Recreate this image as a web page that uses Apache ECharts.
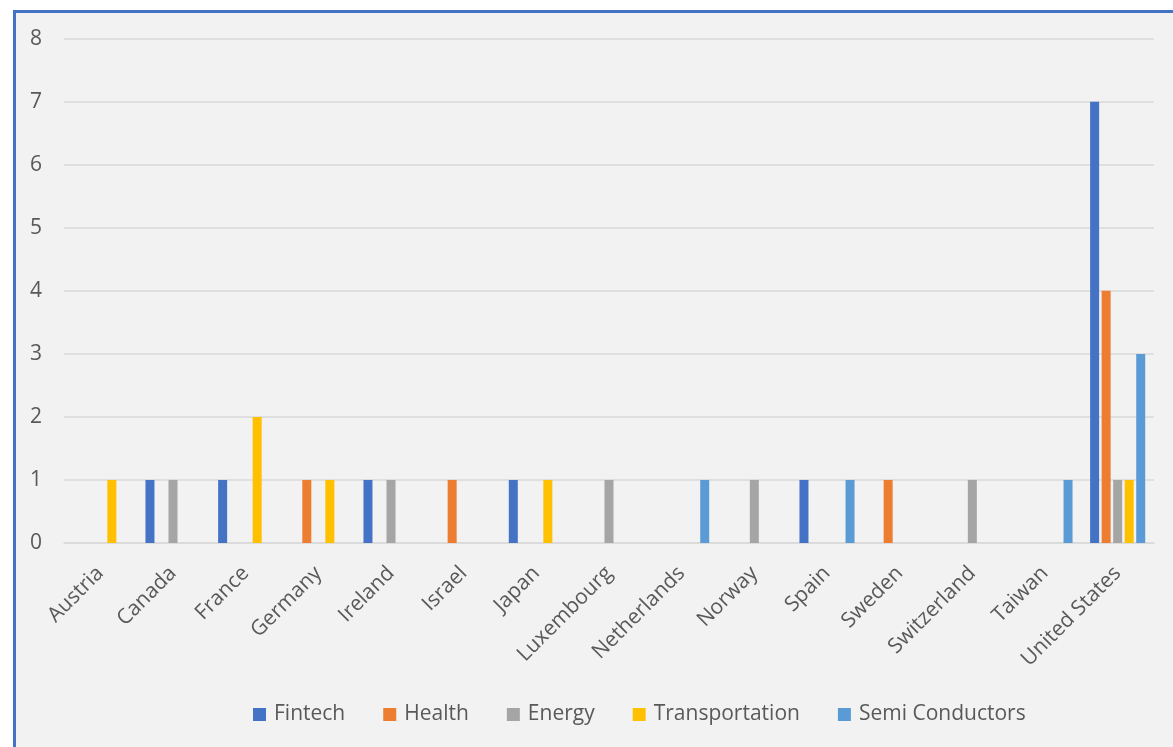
<!DOCTYPE html>
<html>
<head>
<meta charset="utf-8">
<script src="https://cdn.jsdelivr.net/npm/echarts@6/dist/echarts.min.js"></script>
<style>
html,body{margin:0;padding:0;background:#ffffff;width:1173px;height:747px;overflow:hidden;}
#frame{position:absolute;left:13px;top:10px;width:1200px;height:800px;background:#f2f2f2;border-left:3px solid #4472c4;border-top:3px solid #4472c4;}
#chart{position:absolute;left:0;top:0;width:1173px;height:747px;}
</style>
</head>
<body>
<div id="frame"></div>
<div id="chart"></div>
<script>
const categories = ["Austria","Canada","France","Germany","Ireland","Israel","Japan","Luxembourg","Netherlands","Norway","Spain","Sweden","Switzerland","Taiwan","United States"];
const fintech        = [0,1,1,0,1,0,1,0,0,0,1,0,0,0,7];
const health         = [0,0,0,1,0,1,0,0,0,0,0,1,0,0,4];
const energy         = [0,1,0,0,1,0,0,1,0,1,0,0,1,0,1];
const transportation = [1,0,2,1,0,0,1,0,0,0,0,0,0,0,1];
const semiConductors = [0,0,0,0,0,0,0,0,1,0,1,0,0,1,3];
const seriesNames = ["Fintech","Health","Energy","Transportation","Semi Conductors"];
const colors = ["#4472C4","#ED7D31","#A5A5A5","#FFC000","#5B9BD5"];
const yTicks = [0,1,2,3,4,5,6,7,8];

const seriesData = [fintech, health, energy, transportation, semiConductors];
const font = "'Open Sans', sans-serif";
const chart = echarts.init(document.getElementById('chart'), null, {renderer:'canvas'});
chart.setOption({
  backgroundColor: 'transparent',
  animation: false,
  color: colors,
  grid: {left: 64, right: 19, top: 38.7, bottom: 204, containLabel: false},
  legend: {
    top: 699, left: 248,
    itemWidth: 13, itemHeight: 13, itemGap: 38,
    icon: 'rect',
    textStyle: {color: '#595959', fontSize: 21, fontFamily: font, padding: [0,0,0,3]},
    data: seriesNames
  },
  xAxis: {
    type: 'category',
    data: categories,
    axisLine: {show: true, lineStyle: {color: '#d9d9d9', width: 1.5}},
    axisTick: {show: false},
    axisLabel: {rotate: 45, color: '#595959', fontSize: 21, fontFamily: font, margin: 27, interval: 0}
  },
  yAxis: {
    type: 'value',
    min: yTicks[0], max: yTicks[yTicks.length-1], interval: 1,
    axisLine: {show: false},
    axisTick: {show: false},
    splitLine: {lineStyle: {color: '#d9d9d9', width: 1.5}},
    axisLabel: {color: '#595959', fontSize: 21, fontFamily: font, margin: 22}
  },
  series: seriesNames.map((n, i) => ({
    name: n,
    type: 'bar',
    data: seriesData[i],
    barWidth: 9,
    barGap: '28%',
    itemStyle: {color: colors[i]}
  }))
});
</script>
</body>
</html>
